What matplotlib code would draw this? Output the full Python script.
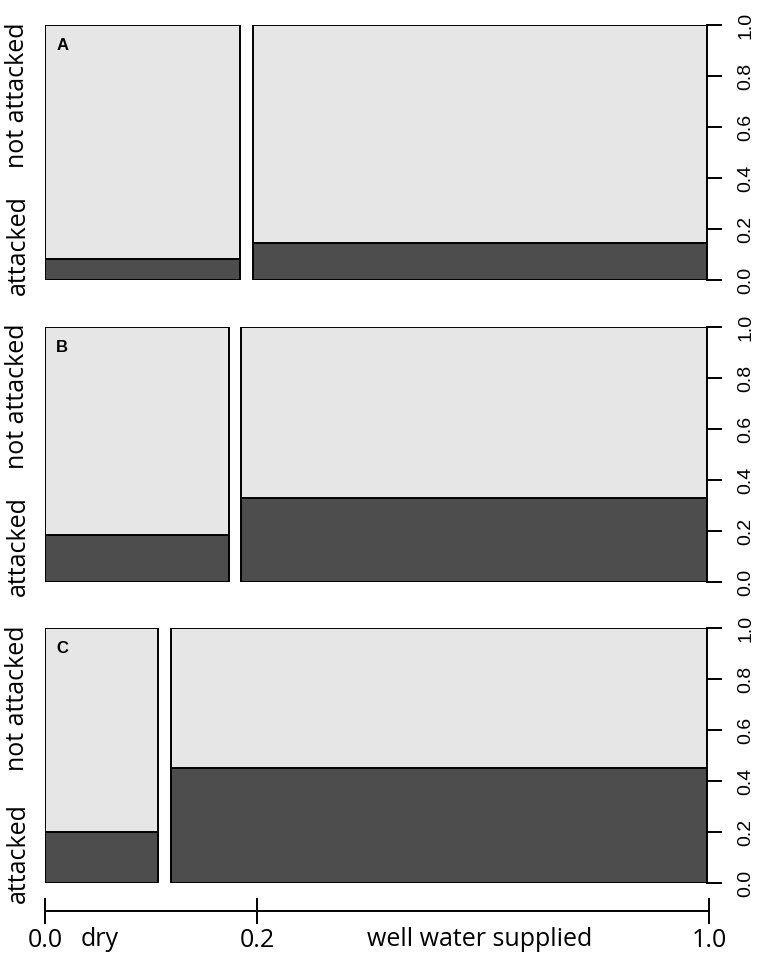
import matplotlib

matplotlib.use("Agg")
import matplotlib.pyplot as plt
from matplotlib.transforms import blended_transform_factory

# spineplots: share of plants attacked, dry vs well watered, three experiments
panels = ["A", "B", "C"]
dry_share = [0.301, 0.283, 0.174]          # width of the "dry" column
attacked_dry = [0.081, 0.183, 0.201]
attacked_well = [0.146, 0.329, 0.450]
y_ticks = [0.0, 0.2, 0.4, 0.6, 0.8, 1.0]
x_tick_pos = [0.0, 0.32, 1.0]
x_tick_labels = ["0.0", "0.2", "1.0"]
groups = ["dry", "well water supplied"]
group_pos = [0.082, 0.654]
row_labels = ["attacked", "not attacked"]
row_pos = [[0.137, 0.725], [0.14, 0.73], [0.116, 0.725]]

DARK, LIGHT = "#4D4D4D", "#E6E6E6"
GAP = 0.019
W, H = 765, 961
LW = 1.4

fig = plt.figure(figsize=(W / 100, H / 100), dpi=100)
left, right = 45 / W, 707 / W
tops = [25, 327, 628]
ph = 255

for i, name in enumerate(panels):
    ax = fig.add_axes([left, 1 - (tops[i] + ph) / H, right - left, ph / H])
    dw = dry_share[i] * (1 - GAP)
    xs = [0, dw + GAP]
    ws = [dw, 1 - dw - GAP]
    att = [attacked_dry[i], attacked_well[i]]
    ax.bar(xs, att, ws, align="edge", color=DARK, edgecolor="black", lw=LW)
    ax.bar(xs, [1 - a for a in att], ws, bottom=att, align="edge",
           color=LIGHT, edgecolor="black", lw=LW)
    ax.set_xlim(0, 1)
    ax.set_ylim(0, 1)
    for s in ["top", "left", "bottom"]:
        ax.spines[s].set_visible(False)
    ax.spines["right"].set_linewidth(LW)
    ax.set_xticks([])
    ax.yaxis.tick_right()
    ax.set_yticks(y_ticks)
    ax.set_yticklabels([f"{t:.1f}" for t in y_ticks], rotation=90, va="center",
                       fontsize=14, family="Liberation Sans")
    ax.tick_params(axis="y", length=11, width=LW, pad=11)
    ax.text(0.026, 0.918, name, transform=ax.transAxes, ha="center", va="center",
            fontsize=12, fontweight="bold", family="Liberation Sans")
    for lab, yp in zip(row_labels, row_pos[i]):
        fig.text(18 / W, 1 - (tops[i] + ph * (1 - yp)) / H, lab, rotation=90,
                 ha="center", va="center", fontsize=18, family="Open Sans")

# shared x scale under the panels
bx = fig.add_axes([left, 1 - 911 / H, 709 / W - left, 0.0001])
bx.set_xlim(0, 1)
bx.set_yticks([])
for s in ["top", "left", "right"]:
    bx.spines[s].set_visible(False)
bx.spines["bottom"].set_linewidth(LW)
bx.set_xticks(x_tick_pos)
bx.set_xticklabels(x_tick_labels, fontsize=18, family="Open Sans")
bx.tick_params(axis="x", direction="inout", length=19, width=LW, pad=3)
trans = blended_transform_factory(bx.transAxes, fig.transFigure)
for g, gx in zip(groups, group_pos):
    bx.text(gx, 1 - 940 / H, g, transform=trans,
            ha="center", va="center", fontsize=18, family="Open Sans")

fig.savefig("out.png", dpi=100)
